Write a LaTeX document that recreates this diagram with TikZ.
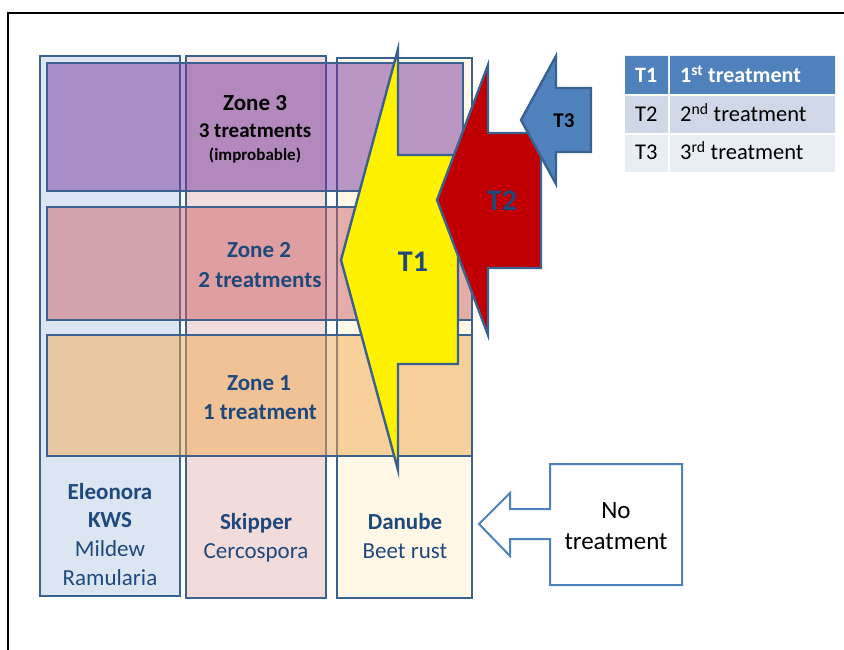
\documentclass[tikz,border=0pt]{standalone}
\usepackage{fontspec}
\setmainfont{Carlito}
\definecolor{edgeblue}{HTML}{3B6190}
\definecolor{txtblue}{HTML}{1F497D}
\definecolor{accent}{HTML}{4F81BD}
\definecolor{colA}{HTML}{DCE6F2}
\definecolor{colB}{HTML}{F2DCDB}
\definecolor{colC}{HTML}{FFF8E6}
\definecolor{zoneC}{RGB}{118,56,160}
\definecolor{zoneB}{RGB}{205,100,105}
\definecolor{zoneA}{RGB}{240,170,80}
\definecolor{redarrow}{HTML}{C00000}
\definecolor{rowB}{HTML}{D0D8E8}
\definecolor{rowC}{HTML}{E9EDF4}
\begin{document}
\begin{tikzpicture}[x=1pt,y=-1pt,
  outline/.style={draw=edgeblue, line width=2.4pt, line join=miter},
  zone/.style={outline, fill opacity=0.5},
  big/.style={font=\fontsize{23}{28}\selectfont},
  txt/.style={big, anchor=base, inner sep=0pt, text=txtblue},
  legend/.style={font=\fontsize{22.5}{27}\selectfont, anchor=base west, inner sep=0pt}]
\useasboundingbox (0,0) rectangle (844,650);

% page frame
\draw[line width=2pt, black] (8,651) -- (8,13) -- (845,13);

% variety columns
\path[outline, fill=colA] (40,56) rectangle (180,596);
\path[outline, fill=colB] (186,56) rectangle (326,598);
\path[outline, fill=colC] (337,58) rectangle (472,598);

% risk zones laid across the columns
\path[zone, fill=zoneC] (47,63) rectangle (463,191);
\path[zone, fill=zoneB] (47,207) rectangle (472,320);
\path[zone, fill=zoneA] (47,335) rectangle (472,456);

% zone labels
\node[txt, text=black, font=\fontsize{23}{28}\selectfont\bfseries] (z3a) at (255,111) {Zone 3};
\node[txt, text=black, font=\fontsize{21}{26}\selectfont\bfseries] (z3b) at (255,138) {3 treatments};
\node[txt, text=black, font=\fontsize{17}{20}\selectfont\bfseries] (z3c) at (255,161) {(improbable)};
\node[txt, font=\fontsize{23}{28}\selectfont\bfseries] (z2a) at (259,258) {Zone 2};
\node[txt, font=\fontsize{23}{28}\selectfont\bfseries] (z2b) at (260,287) {2 treatments};
\node[txt, font=\fontsize{23}{28}\selectfont\bfseries] (z1a) at (259,390) {Zone 1};
\node[txt, font=\fontsize{23}{28}\selectfont\bfseries] (z1b) at (260,419) {1 treatment};

% variety labels
\node[txt, font=\fontsize{23}{28}\selectfont\bfseries] (v1a) at (110,499) {Eleonora};
\node[txt, font=\fontsize{23}{28}\selectfont\bfseries] (v1b) at (110,527) {KWS};
\node[txt] (v1c) at (110,556) {Mildew};
\node[txt] (v1d) at (110,585) {Ramularia};
\node[txt, font=\fontsize{23}{28}\selectfont\bfseries] (v2a) at (256,529) {Skipper};
\node[txt] (v2b) at (256,558) {Cercospora};
\node[txt, font=\fontsize{23}{28}\selectfont\bfseries] (v3a) at (405,529) {Danube};
\node[txt] (v3b) at (405,558) {Beet rust};

% treatment arrows
\path[outline, fill=yellow] (398,49) -- (398,155) -- (458,155) -- (458,364)
  -- (398,364) -- (398,470) -- (341,260) -- cycle;
\path[outline, fill=redarrow] (488,65) -- (488,133) -- (541,133) -- (541,268)
  -- (488,268) -- (488,335) -- (437,200) -- cycle;
\path[outline, fill=accent] (556,56) -- (556,88) -- (591,88) -- (591,152)
  -- (556,152) -- (556,184) -- (521,120) -- cycle;
\node[txt, font=\fontsize{30}{36}\selectfont\bfseries] (t1) at (413,271) {T1};
\node[txt, font=\fontsize{30}{36}\selectfont\bfseries] (t2) at (502,211) {T2};
\node[txt, text=black, font=\fontsize{21}{26}\selectfont\bfseries] (t3) at (564,128) {T3};

% legend table
\fill[accent] (625,56) rectangle (668,94) (670,56) rectangle (835,94);
\fill[rowB] (625,96) rectangle (668,133) (670,96) rectangle (835,133);
\fill[rowC] (625,135) rectangle (668,172) (670,135) rectangle (835,172);
\node[legend, text=white, font=\fontsize{22}{27}\selectfont\bfseries] (k1) at (635,83) {T1};
\node[legend, text=white, font=\fontsize{22}{27}\selectfont\bfseries] (k1t) at (680,83) {1\textsuperscript{st} treatment};
\node[legend] (k2) at (635,122) {T2};
\node[legend] (k2t) at (680,122) {2\textsuperscript{nd} treatment};
\node[legend] (k3) at (635,160) {T3};
\node[legend] (k3t) at (680,160) {3\textsuperscript{rd} treatment};

% untreated callout
\path[draw=accent, line width=2pt, fill=white, line join=miter] (682,464) -- (682,585)
  -- (550,585) -- (550,539) -- (510,539) -- (510,556) -- (479,524) -- (510,493)
  -- (510,509) -- (550,509) -- (550,464) -- cycle;
\node[txt, text=black, font=\fontsize{25}{30}\selectfont] (n1) at (616,518) {No};
\node[txt, text=black, font=\fontsize{25}{30}\selectfont] (n2) at (616,549) {treatment};
\end{tikzpicture}
\end{document}
